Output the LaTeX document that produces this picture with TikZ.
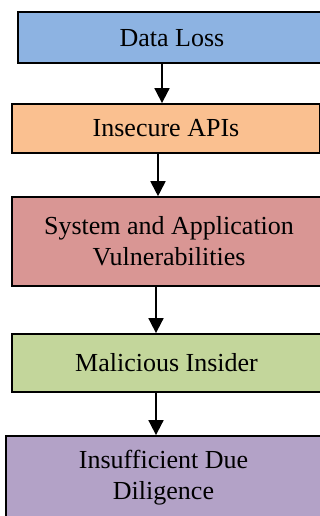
\documentclass[tikz,border=0pt]{standalone}
\usepackage{fontspec}
\setmainfont{Liberation Serif}
\usetikzlibrary{arrows.meta}
\definecolor{cblue}{RGB}{141,179,226}
\definecolor{corange}{RGB}{250,192,144}
\definecolor{cred}{RGB}{217,150,148}
\definecolor{cgreen}{RGB}{195,214,155}
\definecolor{cpurple}{RGB}{179,162,199}
\begin{document}
\begin{tikzpicture}[x=1pt,y=-1pt,
  box/.style={draw=black,line width=1.8pt,align=center,font=\fontsize{26}{31}\selectfont,inner sep=0pt},
  conn/.style={line width=1.8pt,-{Triangle[length=15pt,width=15pt]}}]
\useasboundingbox (0,0) rectangle (320,516);
\clip (0,0) rectangle (320,516);
\node[box,fill=cblue,minimum width=308pt,minimum height=51pt] (dl) at (172,37.7) {Data Loss};
\node[box,fill=corange,minimum width=308pt,minimum height=49pt] (api) at (166,128.5) {Insecure APIs};
\node[box,fill=cred,minimum width=314pt,minimum height=89pt] (sys) at (169,241.6) {System and Application\\Vulnerabilities};
\node[box,fill=cgreen,minimum width=309pt,minimum height=58pt] (mal) at (166.5,363) {Malicious Insider};
\node[box,fill=cpurple,minimum width=315pt,minimum height=84pt] (idd) at (163.5,478) {Insufficient Due\\Diligence};
\draw[conn] (dl.south -| 162,0) -- (api.north -| 162,0);
\draw[conn] (api.south -| 158,0) -- (sys.north -| 158,0);
\draw[conn] (sys.south -| 156,0) -- (mal.north -| 156,0);
\draw[conn] (mal.south -| 156,0) -- (idd.north -| 156,0);
\end{tikzpicture}
\end{document}
